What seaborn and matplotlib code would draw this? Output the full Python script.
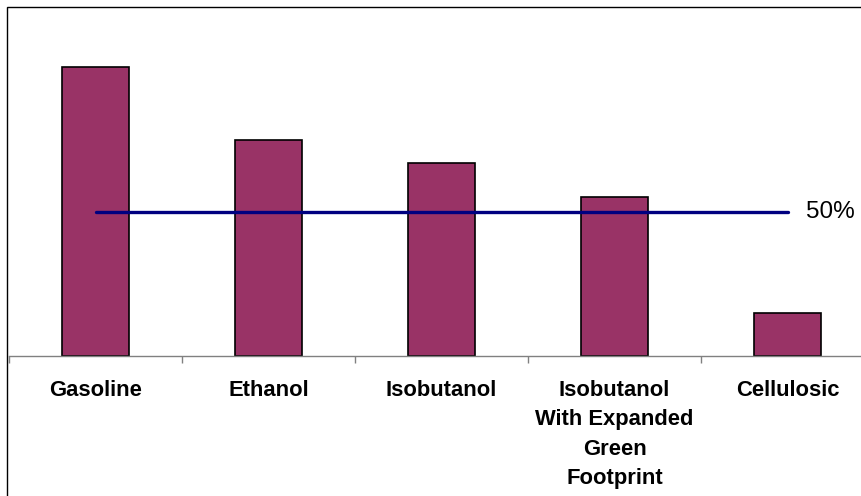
import matplotlib
matplotlib.use("Agg")
import matplotlib.pyplot as plt
import seaborn as sns
import pandas as pd
from matplotlib.patches import Rectangle

categories = ["Gasoline", "Ethanol", "Isobutanol",
              "Isobutanol\nWith Expanded\nGreen\nFootprint", "Cellulosic"]
values = [100, 75, 67, 55, 15]
threshold = 50
threshold_label = "50%"

sns.set_style("white")
plt.rcParams['font.family'] = ['Liberation Sans', 'DejaVu Sans']

df = pd.DataFrame({"fuel": categories, "value": values})

fig = plt.figure(figsize=(8.61, 4.96), dpi=100)
W, H = 861, 496
# axes in pixel terms: left 9, category width 173, baseline y=356, top y=20
ax = fig.add_axes([9 / W, (H - 356) / H, 5 * 173 / W, (356 - 20) / H])

sns.barplot(data=df, x="fuel", y="value", color="#993366", saturation=1,
            width=0.393, edgecolor="black", linewidth=1.2, ax=ax)

ax.plot([0, len(categories) - 1], [threshold, threshold], color="#000080",
        lw=2.4, solid_capstyle="round", zorder=5)
ax.annotate(threshold_label, xy=(len(categories) - 1, threshold),
            xytext=(13, 0), textcoords="offset points", va="center",
            ha="left", fontsize=17.5, color="black", annotation_clip=False)

ax.set_xlim(-0.5, len(categories) - 0.5)
ax.set_ylim(0, 336 / 2.886)
ax.set_xlabel("")
ax.set_ylabel("")
ax.set_yticks([])

ax.set_xticks(range(len(categories)))
ax.set_xticklabels(categories, fontsize=15.8, fontweight="bold",
                   linespacing=1.53, color="black")
ax.tick_params(axis="x", which="major", length=0, pad=17, bottom=True)
ax.set_xticks([i - 0.5 for i in range(len(categories) + 1)], minor=True)
ax.tick_params(axis="x", which="minor", length=5, width=1, color="#808080",
               direction="out", bottom=True)

for side in ["top", "left", "right"]:
    ax.spines[side].set_visible(False)
ax.spines["bottom"].set_color("#808080")
ax.spines["bottom"].set_linewidth(1)

fig.patches.append(Rectangle((7 / W, -0.1), 1.1, (H - 7) / H + 0.1,
                             transform=fig.transFigure, fill=False,
                             edgecolor="black", linewidth=1))

fig.savefig("out.png", dpi=100)
